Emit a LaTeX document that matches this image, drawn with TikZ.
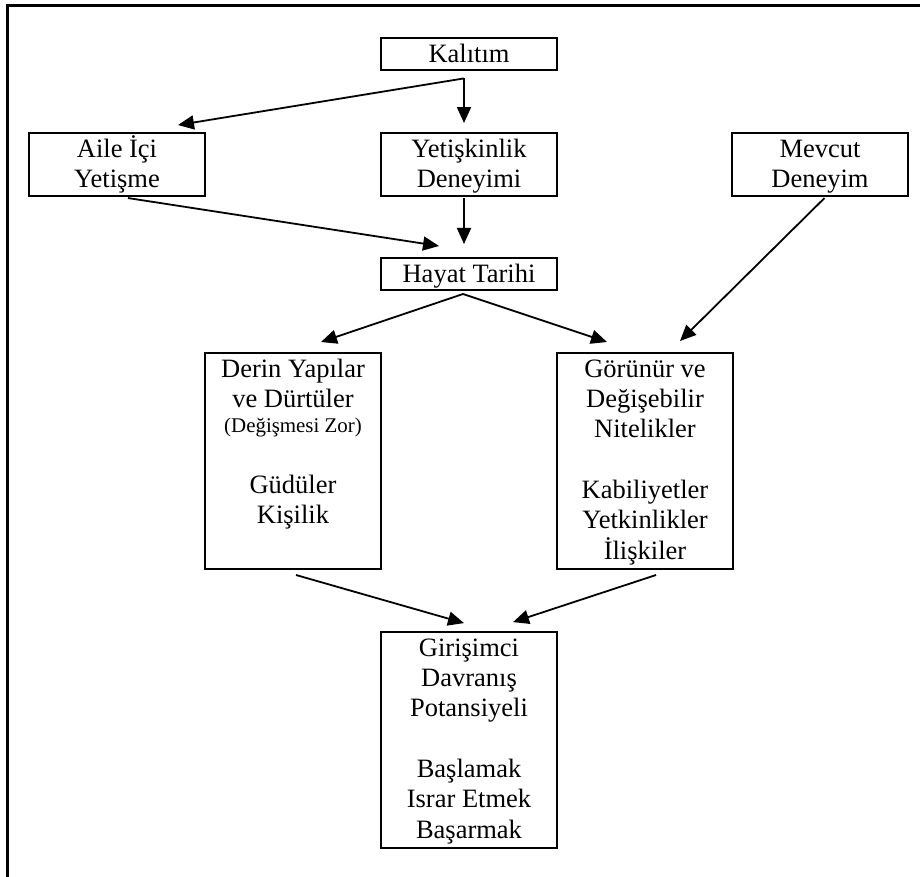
\documentclass[tikz,border=0pt]{standalone}
\usepackage{fontspec}
\setmainfont{Liberation Serif}
\usetikzlibrary{arrows.meta,calc}
\newcommand\mybox[2]{\parbox[c][#1][t]{176pt}{\centering\rule{0pt}{24.5pt}#2}}
\tikzset{
  box/.style={draw, line width=2pt, inner sep=0pt, font=\fontsize{26.5}{30.3}\selectfont},
  arr/.style={-{Triangle[length=16pt,width=14pt]}, line width=1.8pt},
  frame/.style={line width=2.7pt},
}
\begin{document}
\begin{tikzpicture}[x=1pt,y=-1pt]
\useasboundingbox (0,0) rectangle (920,877);
\draw[frame] (7.5,880) -- (7.5,5.5) -- (923,5.5);

\node[box] (kal) at (469,53.9) {\mybox{32pt}{Kalıtım}};
\node[box] (aile) at (117,164.3) {\mybox{63.5pt}{Aile İçi\\Yetişme}};
\node[box] (yet) at (469,164.3) {\mybox{63.5pt}{Yetişkinlik\\Deneyimi}};
\node[box] (mev) at (820,164.3) {\mybox{63.5pt}{Mevcut\\Deneyim}};
\node[box] (hay) at (469,274) {\mybox{32pt}{Hayat Tarihi}};
\node[box] (derin) at (293,460.7) {\mybox{216pt}{Derin Yapılar\\ve Dürtüler\\[-5.3pt]{\fontsize{20.9}{24}\selectfont (Değişmesi Zor)}\\[30.7pt]Güdüler\\Kişilik}};
\node[box] (gor) at (645,460.7) {\mybox{216pt}{Görünür ve\\Değişebilir\\Nitelikler\\[30.3pt]Kabiliyetler\\Yetkinlikler\\İlişkiler}};
\node[box] (gir) at (469,739.8) {\mybox{216pt}{Girişimci\\Davranış\\Potansiyeli\\[30.3pt]Başlamak\\Israr Etmek\\Başarmak}};

\draw[arr] ($(kal.south)+(-5,7.5)$) -- ($(yet.north)+(-5,-8.5)$);
\draw[arr] ($(kal.south)+(-5,7.5)$) -- ($(aile.north)+(61,-6.5)$);
\draw[arr] ($(aile.south)+(11,1)$) -- ($(hay.north)+(-30,-11)$);
\draw[arr] ($(yet.south)+(-5,1)$) -- ($(hay.north)+(-5,-13)$);
\draw[arr] ($(mev.south)+(4.5,1)$) -- ($(gor.north)+(35,-10.7)$);
\draw[arr] ($(hay.south)+(-6,3)$) -- ($(derin.north)+(28,-9.7)$);
\draw[arr] ($(hay.south)+(-6,3)$) -- ($(gor.north)+(-38,-9.7)$);
\draw[arr] ($(derin.south)+(3,5.3)$) -- ($(gir.north)+(-5,-7.7)$);
\draw[arr] ($(gor.south)+(11,5.3)$) -- ($(gir.north)+(44,-8.7)$);
\end{tikzpicture}
\end{document}
